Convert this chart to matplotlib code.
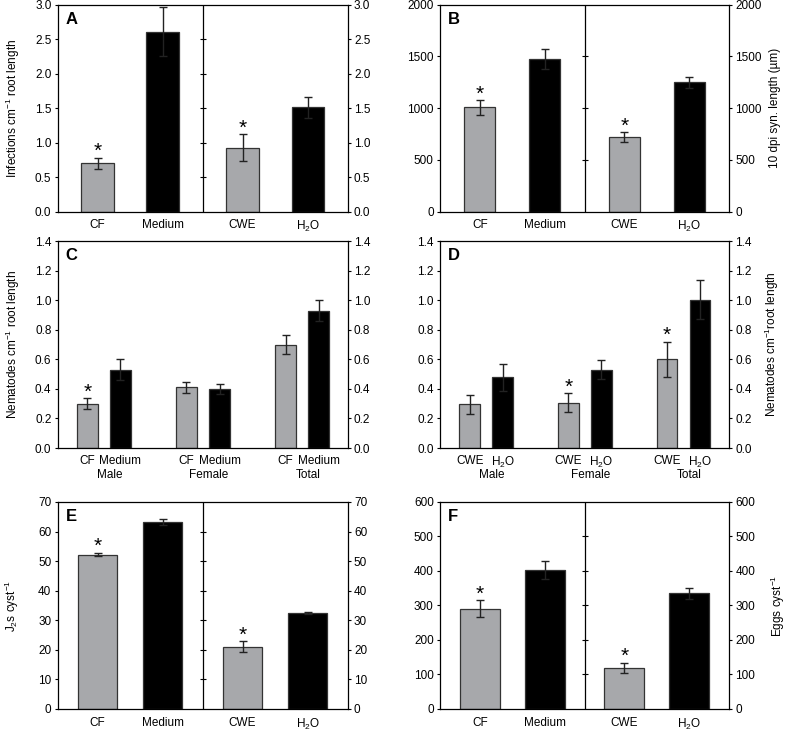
import numpy as np
import matplotlib.pyplot as plt
from matplotlib.ticker import FormatStrFormatter
import matplotlib.transforms as mtransforms

plt.rcParams['font.family'] = ['Liberation Sans', 'DejaVu Sans']
plt.rcParams['mathtext.fontset'] = 'custom'
plt.rcParams['mathtext.rm'] = 'Liberation Sans'
plt.rcParams['mathtext.it'] = 'Liberation Sans:italic'
plt.rcParams['mathtext.bf'] = 'Liberation Sans:bold'
plt.rcParams['font.size'] = 8.5

# --- data ---
pair_labels = ["CF", "Medium", "CWE", "H$_2$O"]

a_vals = [0.70, 2.61, 0.93, 1.51]
a_err = [0.08, 0.35, 0.19, 0.15]
a_sig = [True, False, True, False]

b_vals = [1008, 1472, 721, 1250]
b_err = [70, 96, 45, 51]
b_sig = [True, False, True, False]

groups = ["Male", "Female", "Total"]

c_cf = [0.30, 0.41, 0.70]
c_cf_err = [0.035, 0.037, 0.063]
c_med = [0.53, 0.40, 0.93]
c_med_err = [0.07, 0.036, 0.068]
c_sig = [True, False, False]

d_cwe = [0.295, 0.306, 0.60]
d_cwe_err = [0.062, 0.063, 0.118]
d_h2o = [0.477, 0.531, 1.004]
d_h2o_err = [0.088, 0.063, 0.133]
d_sig = [False, True, True]

e_vals = [52.2, 63.3, 21.1, 32.5]
e_err = [0.6, 1.1, 1.8, 0.35]
e_sig = [True, False, True, False]

f_vals = [291, 404, 120, 335]
f_err = [24, 26, 14.5, 15.5]
f_sig = [True, False, True, False]

GREY = "#a7a8ab"
EDGE = "#333333"


def style_axis(ax, ymax, step, fmt, letter):
    ax.set_ylim(0, ymax)
    ax.set_yticks(np.arange(0, ymax + step / 2, step))
    ax.yaxis.set_major_formatter(FormatStrFormatter(fmt))
    ax.tick_params(axis='y', direction='out', length=2.5, width=0.8,
                   left=True, right=True, labelleft=True, labelright=True, pad=2)
    ax.tick_params(axis='x', length=0, pad=5.5)
    for s in ax.spines.values():
        s.set_linewidth(0.9)
    ax.text(0.027, 0.967, letter, transform=ax.transAxes, ha='left', va='top',
            fontsize=12, fontweight='bold')


def star(ax, x, top):
    ax.annotate("*", (x, top), xytext=(0, 0.5), textcoords='offset points',
                ha='center', va='baseline', fontsize=15)


def pair_panel(ax, vals, err, sig, width, ymax, step, fmt, letter):
    xs = np.array([0.55, 1.45, 2.55, 3.45])
    cols = [GREY, 'black', GREY, 'black']
    ax.bar(xs, vals, width=width, color=cols, edgecolor=EDGE, linewidth=0.9, zorder=2)
    ax.errorbar(xs, vals, yerr=err, fmt='none', ecolor='#222222', elinewidth=1,
                capsize=3, capthick=1, zorder=3)
    for x, v, e, s in zip(xs, vals, err, sig):
        if s:
            star(ax, x, v + e)
    ax.set_xlim(0, 4)
    ax.set_xticks(xs)
    ax.set_xticklabels(pair_labels)
    style_axis(ax, ymax, step, fmt, letter)
    ax.axvline(2, color='black', linewidth=0.9, zorder=1)
    # small cross ticks on the divider
    for y in ax.get_yticks()[1:-1]:
        ax.plot([2], [y], marker='_', markersize=5, mew=0.8, color='black',
                clip_on=False, zorder=1)


def group_panel(ax, v1, e1, v2, e2, sig, names, letter):
    g = np.arange(len(groups))
    off = 0.167
    w = 0.207
    ax.bar(g - off, v1, width=w, color=GREY, edgecolor=EDGE, linewidth=0.9, zorder=2)
    ax.bar(g + off, v2, width=w, color='black', edgecolor=EDGE, linewidth=0.9, zorder=2)
    ax.errorbar(g - off, v1, yerr=e1, fmt='none', ecolor='#222222', elinewidth=1,
                capsize=3, capthick=1, zorder=3)
    ax.errorbar(g + off, v2, yerr=e2, fmt='none', ecolor='#222222', elinewidth=1,
                capsize=3, capthick=1, zorder=3)
    for x, v, e, s in zip(g - off, v1, e1, sig):
        if s:
            star(ax, x, v + e)
    ax.set_xlim(-0.467, 2.46)
    ticks = np.ravel(np.column_stack([g - off, g + off]))
    ax.set_xticks(ticks)
    ax.set_xticklabels(names * len(groups))
    style_axis(ax, 1.4, 0.2, '%.1f', letter)
    ax.tick_params(axis='x', pad=5)
    trans = mtransforms.blended_transform_factory(ax.transData, ax.transAxes)
    for x, name in zip(g, groups):
        ax.text(x + 0.06, -0.132, name, transform=trans, ha='center', va='center')


fig = plt.figure(figsize=(7.89, 7.31), dpi=100)
lx, rx = 0.0731, 0.5577
lw_, rw_ = 0.3676, 0.3663
h = 0.2832
axA = fig.add_axes([lx, 0.7104, lw_, h])
axB = fig.add_axes([rx, 0.7104, rw_, h])
axC = fig.add_axes([lx, 0.3871, lw_, h])
axD = fig.add_axes([rx, 0.3871, rw_, h])
axE = fig.add_axes([lx, 0.0301, lw_, h])
axF = fig.add_axes([rx, 0.0301, rw_, h])

pair_panel(axA, a_vals, a_err, a_sig, 0.45, 3.0, 0.5, '%.1f', 'A')
pair_panel(axB, b_vals, b_err, b_sig, 0.43, 2000, 500, '%d', 'B')
group_panel(axC, c_cf, c_cf_err, c_med, c_med_err, c_sig, ["CF", "Medium"], 'C')
group_panel(axD, d_cwe, d_cwe_err, d_h2o, d_h2o_err, d_sig, ["CWE", "H$_2$O"], 'D')
pair_panel(axE, e_vals, e_err, e_sig, 0.54, 70, 10, '%d', 'E')
pair_panel(axF, f_vals, f_err, f_sig, 0.55, 600, 100, '%d', 'F')

for ax, lab, xc in [(axA, "Infections cm$^{-1}$ root length", -0.155),
                    (axC, "Nematodes cm$^{-1}$ root length", -0.155),
                    (axE, "J$_2$s cyst$^{-1}$", -0.157)]:
    ax.set_ylabel(lab)
    ax.yaxis.label.set_va('center')
    ax.yaxis.set_label_coords(xc, 0.5)

for ax, lab, xc in [(axB, "10 dpi syn. length (µm)", 1.159),
                    (axD, "Nematodes cm$^{-1}$root length", 1.148),
                    (axF, "Eggs cyst$^{-1}$", 1.17)]:
    ax.yaxis.set_label_position('right')
    ax.set_ylabel(lab, rotation=90)
    ax.yaxis.label.set_va('center')
    ax.yaxis.set_label_coords(xc, 0.5)

fig.savefig("out.png", dpi=100)
